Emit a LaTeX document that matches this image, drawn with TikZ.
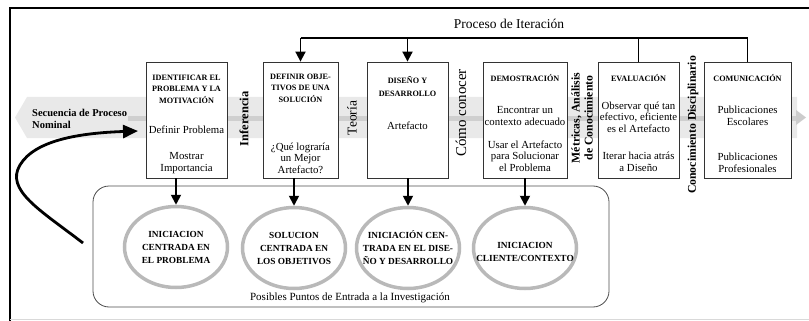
\documentclass[tikz,border=0pt]{standalone}
\usepackage{fontspec}
\setmainfont{Liberation Serif}
\usetikzlibrary{arrows.meta,shapes.geometric}
\begin{document}
\begin{tikzpicture}[x=1pt,y=-1pt,
  box/.style={draw=black!80,line width=0.8pt,fill=white,inner sep=0pt,minimum height=116pt},
  hd/.style={font=\bfseries\fontsize{8.2}{11.5}\selectfont,align=center,inner sep=0pt},
  bd/.style={font=\fontsize{10.8}{11.5}\selectfont,align=center,inner sep=0pt},
  vl/.style={rotate=90,inner sep=0pt,align=center},
  ell/.style={ellipse,draw=gray!55,line width=3.5pt,minimum width=103pt,minimum height=81pt,inner sep=0pt},
  et/.style={font=\bfseries\fontsize{9.3}{13}\selectfont,align=center,inner sep=0pt},
  arr/.style={line width=1.8pt,-{Triangle[length=10pt,width=10pt]}},
  itl/.style={line width=1.2pt}
]
\useasboundingbox (0,0) rectangle (809,321);
% frame
\draw[line width=2.5pt] (10,321) -- (10,8) -- (809,8);
\draw[gray!30,line width=0.6pt] (10,319.5) -- (809,319.5);
% band
\fill[gray!17] (27,97) -- (797,97) -- (797,138) -- (27,138) -- (15,117.5) -- cycle;
\fill[gray!38] (128,116) rectangle (797,121);
\fill[gray!40] (796,110) -- (806,117.5) -- (796,125) -- cycle;
% boxes
\node[box,minimum width=81pt] (b1) at (186.5,120) {};
\node[box,minimum width=75pt] (b2) at (300.5,120) {};
\node[box,minimum width=81pt] (b3) at (407.5,120) {};
\node[box,minimum width=84pt] (b4) at (525,120) {};
\node[box,minimum width=81pt] (b5) at (638.5,120) {};
\node[box,minimum width=87pt] (b6) at (747.5,120) {};
% box texts
\node[hd] (t1a) at (186.5,89) {IDENTIFICAR EL\\PROBLEMA Y LA\\MOTIVACIÓN};
\node[bd] (t1b) at (186.5,130) {Definir Problema};
\node[bd] (t1c) at (186.5,163) {Mostrar\\Importancia};
\node[hd] (t2a) at (300.5,88) {DEFINIR OBJE-\\TIVOS DE UNA\\SOLUCIÓN};
\node[bd] (t2b) at (300.5,158) {¿Qué lograría\\un Mejor\\Artefacto?};
\node[hd,font=\bfseries\fontsize{8.2}{13}\selectfont] (t3a) at (407.5,87) {DISEÑO Y\\DESARROLLO};
\node[bd] (t3b) at (407.5,126) {Artefacto};
\node[hd] (t4a) at (525,78) {DEMOSTRACIÓN};
\node[bd] (t4b) at (525,116) {Encontrar un\\contexto adecuado};
\node[bd] (t4c) at (525,156) {Usar el Artefacto\\para Solucionar\\el Problema};
\node[hd] (t5a) at (638.5,78) {EVALUACIÓN};
\node[bd] (t5b) at (638.5,117) {Observar qué tan\\efectivo, eficiente\\es el Artefacto};
\node[bd] (t5c) at (638.5,162) {Iterar hacia atrás\\a Diseño};
\node[hd] (t6a) at (747.5,78) {COMUNICACIÓN};
\node[bd] (t6b) at (747.5,116) {Publicaciones\\Escolares};
\node[bd] (t6c) at (747.5,163) {Publicaciones\\Profesionales};
% vertical labels
\node[vl,font=\bfseries\fontsize{12.5}{14}\selectfont] (inf) at (244,119) {Inferencia};
\node[vl,font=\fontsize{13.5}{15}\selectfont] (teo) at (352,118) {Teoría};
\node[vl,font=\fontsize{15}{16}\selectfont] (como) at (461,113) {Cómo conocer};
\node[vl,font=\bfseries\fontsize{11.8}{13}\selectfont] (met) at (582,118) {Métricas, Análisis\\de Conocimiento};
\node[vl,font=\bfseries\fontsize{11.8}{13}\selectfont] (cd) at (693,125) {Conocimiento Disciplinario};
% left label
\node[font=\bfseries\fontsize{10.5}{11.5}\selectfont,align=left,anchor=west,inner sep=0pt] (seq) at (32,119) {Secuencia de Proceso\\Nominal};
% iteration
\node[font=\fontsize{13.5}{15}\selectfont,inner sep=0pt] (it) at (509,24) {Proceso de Iteración};
\coordinate (ln) at (0,38);
\draw[itl] (b2.north |- ln) -- (b6.north |- ln) -- (b6.north);
\draw[itl] (b5.north |- ln) -- (b5.north);
\draw[arr] (b2.north |- ln) -- (b2.north);
\draw[arr] (b3.north |- ln) -- (b3.north);
% entry points
\node[draw=black!70,rounded corners=16pt,line width=0.8pt,minimum width=516pt,minimum height=121pt,inner sep=0pt] (rr) at (351,246.5) {};
\node[ell] (e1) at (176,247) {};
\node[ell] (e2) at (294,248) {};
\node[ell] (e3) at (408,248) {};
\node[ell] (e4) at (525,248) {};
\node[et] (x1) at (e1) {INICIACION\\CENTRADA EN\\EL PROBLEMA};
\node[et] (x2) at (e2) {SOLUCION\\CENTRADA EN\\LOS OBJETIVOS};
\node[et] (x3) at (e3) {INICIACIÓN CEN-\\TRADA EN EL DISE-\\ÑO Y DESARROLLO};
\node[et] (x4) at ([yshift=-4pt]e4.center) {INICIACION\\CLIENTE/CONTEXTO};
\node[font=\fontsize{11}{12}\selectfont,inner sep=0pt] (pp) at (350,298) {Posibles Puntos de Entrada a la Investigación};
\draw[arr] (e1.north |- b1.south) -- (e1.north);
\draw[arr] (e2.north |- b2.south) -- (e2.north);
\draw[arr] (e3.north |- b3.south) -- (e3.north);
\draw[arr] (e4.north |- b4.south) -- (e4.north);
% curved arrow
\coordinate (cs) at (83,243);
\coordinate (ct) at (138,131);
\draw[line width=2.8pt,-{Triangle[length=15pt,width=13pt]}] (cs) .. controls (40,210) and (5,190) .. (20,165) .. controls (35,140) and (80,133) .. (ct);
\end{tikzpicture}
\end{document}
